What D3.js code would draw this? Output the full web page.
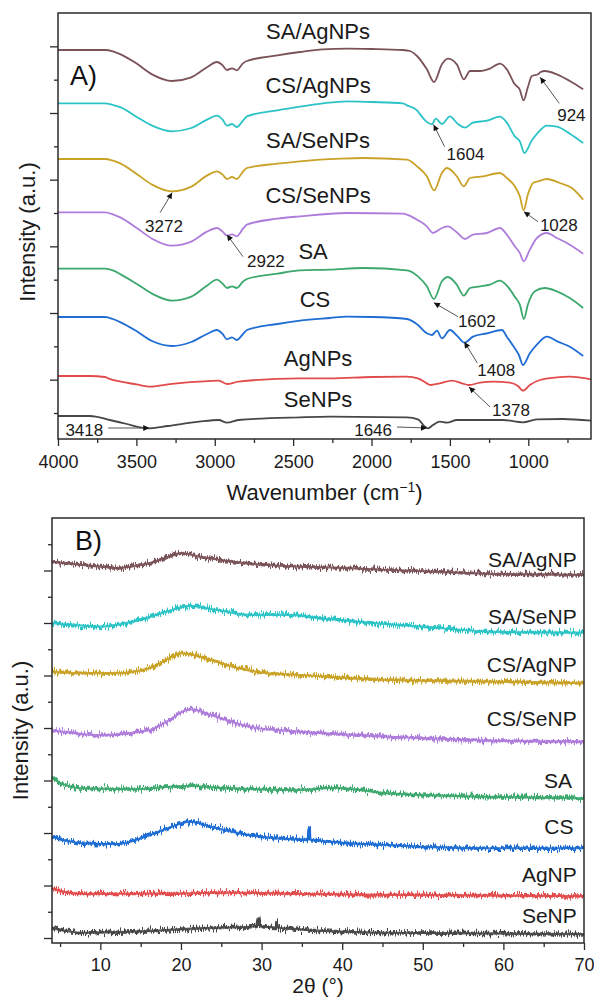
<!DOCTYPE html>
<html><head><meta charset="utf-8">
<script src="https://cdn.jsdelivr.net/npm/d3@7"></script>
<style>
html,body{margin:0;padding:0;background:#fff;}
svg{display:block;font-family:"Liberation Sans",Arial,Helvetica,sans-serif;}
</style></head><body>
<svg id="fig" width="594" height="999"></svg>
<script>
// ---------- Panel A: FTIR spectra, [wavenumber cm-1, stacked intensity a.u.] ----------
const ftirSAAg = [[4000,108.9],[3700,108.9],[3650,108.5],[3600,107.6],[3500,104.9],[3400,101.6],[3272,99.6],[3150,100.7],[3050,103.7],[2986,105.3],[2950,104.3],[2922,102.9],[2890,103.4],[2860,102.8],[2820,104.9],[2795,105.6],[2600,107.3],[2457,108.3],[2310,109.1],[2157,109.3],[2000,109.2],[1800,108.9],[1755,108.6],[1710,107.1],[1647,103.1],[1601,99.3],[1551,104.6],[1513,106.3],[1456,104.6],[1411,100.1],[1372,102.6],[1308,102.6],[1245,103.3],[1181,104.8],[1137,103.1],[1086,98.6],[1055,97.1],[1030,93.8],[1003,97.7],[977,101.1],[938,101.6],[924,102.2],[894,102.6],[818,101.6],[735,99.6],[650,97.1]];
const ftirCSAg = [[4000,92.9],[3700,92.9],[3650,92.4],[3600,91.7],[3500,88.9],[3400,86.2],[3272,84.5],[3150,85.5],[3050,88.0],[2986,89.2],[2950,88.0],[2922,86.2],[2890,86.7],[2860,85.8],[2820,87.7],[2795,89.0],[2600,90.8],[2457,91.9],[2310,92.9],[2157,93.5],[2000,93.3],[1800,92.9],[1774,92.3],[1710,90.8],[1690,89.6],[1650,87.4],[1615,86.6],[1590,88.3],[1551,86.7],[1500,89.0],[1449,86.7],[1404,85.6],[1353,87.1],[1264,87.7],[1181,88.9],[1137,87.1],[1086,83.0],[1053,81.4],[1025,78.0],[977,81.8],[938,84.1],[881,86.2],[818,85.9],[735,83.8],[650,81.0]];
const ftirSASe = [[4000,76.2],[3700,76.2],[3650,75.7],[3600,74.8],[3500,71.8],[3400,68.5],[3272,66.5],[3150,67.9],[3050,71.2],[2986,72.5],[2950,71.5],[2922,70.2],[2890,70.8],[2860,70.2],[2820,72.4],[2795,73.5],[2600,74.8],[2457,75.5],[2200,76.3],[2055,76.5],[1774,76.0],[1710,74.0],[1647,71.0],[1601,66.8],[1551,72.0],[1519,73.5],[1456,71.0],[1411,68.0],[1372,70.5],[1289,71.0],[1181,72.0],[1137,70.5],[1086,68.0],[1054,65.0],[1030,60.8],[1003,65.5],[970,69.0],[938,69.5],[881,70.2],[799,69.0],[722,67.5],[650,64.0]];
const ftirCSSe = [[4000,60.2],[3700,60.2],[3650,59.6],[3600,58.6],[3500,55.6],[3400,52.3],[3272,50.2],[3150,51.4],[3050,54.4],[2986,55.5],[2950,54.4],[2922,53.2],[2890,53.6],[2860,53.0],[2820,55.3],[2795,56.5],[2600,58.3],[2457,59.0],[2157,60.0],[1800,59.8],[1774,59.5],[1710,58.0],[1647,56.0],[1608,54.0],[1551,55.5],[1513,56.0],[1456,54.2],[1404,52.2],[1353,53.5],[1264,54.0],[1181,55.5],[1137,53.5],[1086,50.0],[1055,48.1],[1030,45.5],[990,49.0],[945,52.5],[881,54.0],[818,52.5],[735,50.5],[650,47.8]];
const ftirSA = [[4000,43.3],[3700,43.3],[3650,42.8],[3600,41.6],[3500,38.8],[3400,35.8],[3272,33.7],[3150,34.9],[3050,38.2],[2986,40.0],[2950,38.8],[2922,37.5],[2890,38.0],[2860,37.5],[2820,39.4],[2795,40.2],[2600,41.8],[2457,42.8],[2265,43.0],[2055,43.5],[1774,42.8],[1704,41.0],[1647,38.0],[1602,34.2],[1551,39.5],[1513,40.8],[1456,38.5],[1411,35.2],[1372,37.5],[1308,38.0],[1245,38.5],[1181,39.7],[1137,38.2],[1086,34.9],[1054,32.5],[1028,28.2],[1003,32.5],[958,36.5],[894,37.5],[818,36.5],[735,34.5],[650,31.5]];
const ftirCS = [[4000,28.8],[3700,28.8],[3650,28.2],[3600,27.2],[3500,24.6],[3400,21.6],[3272,20.1],[3150,21.3],[3050,23.7],[2986,24.9],[2950,23.7],[2922,22.1],[2890,22.7],[2860,21.9],[2820,23.7],[2795,24.9],[2600,26.7],[2457,27.7],[2265,28.5],[2157,28.9],[2000,28.8],[1774,28.2],[1704,26.4],[1647,23.9],[1615,23.4],[1583,24.7],[1551,22.4],[1500,24.9],[1449,22.9],[1408,21.1],[1353,22.9],[1264,23.9],[1168,24.9],[1137,22.9],[1086,19.4],[1060,17.4],[1034,14.4],[990,17.9],[938,20.9],[881,22.9],[812,21.4],[735,19.9],[650,17.1]];
const ftirAg = [[4000,11.1],[3800,11.1],[3700,10.8],[3680,10.4],[3600,9.4],[3500,8.6],[3413,7.9],[3300,8.6],[3100,9.4],[2975,9.7],[2922,8.7],[2850,9.4],[2457,10.4],[2265,10.4],[2000,10.8],[1774,10.9],[1704,10.4],[1647,8.9],[1626,8.4],[1564,8.9],[1487,9.7],[1423,8.9],[1378,8.4],[1308,9.1],[1224,9.4],[1117,9.1],[1066,8.1],[1034,6.7],[990,8.4],[926,9.9],[818,10.7],[735,10.9],[600,10.1]];
const ftirSe = [[4000,-0.9],[3796,-0.9],[3670,-2.1],[3560,-3.3],[3477,-4.3],[3413,-4.6],[3300,-3.9],[3100,-2.6],[2975,-2.1],[2922,-2.9],[2850,-2.1],[2457,-1.3],[2265,-1.1],[1774,-1.3],[1704,-1.9],[1659,-4.1],[1640,-4.6],[1608,-3.6],[1564,-2.6],[1519,-2.9],[1456,-2.1],[1308,-2.1],[1162,-2.1],[1034,-2.8],[945,-1.9],[780,-1.8],[600,-2.3]];

const ftirNames = ["SA/AgNPs","CS/AgNPs","SA/SeNPs","CS/SeNPs","SA","CS","AgNPs","SeNPs"];
const ftirSeries = [ftirSAAg, ftirCSAg, ftirSASe, ftirCSSe, ftirSA, ftirCS, ftirAg, ftirSe];
const ftirLabelW = [2341, 2341, 2341, 2341, 2373, 2361, 2341, 2341];
const ftirLabelV = [112.1, 96.1, 79.5, 63.0, 46.3, 31.9, 14.1, 1.9];

// marked bands: wavenumber, spectrum index, intensity at the arrow tip
const peakWavenumbers = [924, 1604, 1028, 3272, 2922, 1602, 1408, 1378, 1646, 3418];
const peakSeries = [0, 1, 2, 2, 3, 4, 5, 6, 7, 7];
const peakTipV = [100.7, 86.5, 60.4, 66.1, 53.5, 33.1, 21.3, 7.8, -4.5, -4.5];

const ftirMajorTicks = [4000, 3500, 3000, 2500, 2000, 1500, 1000];
const ftirMinorTicks = [3750, 3250, 2750, 2250, 1750, 1250, 750];

// ---------- Panel B: XRD patterns, [2theta deg, stacked intensity a.u.] ----------
const xrdSAAg = [[4,143.4],[5.5,142.8],[7.8,142.1],[10,141.5],[12,140.9],[14,141.6],[16.1,142.8],[18.5,145.2],[20,146.6],[22.3,145.3],[24.5,144.2],[26.4,143.4],[28.6,142.6],[30.6,142.1],[34.7,141.5],[40,141.0],[45.9,140.2],[52,139.5],[58.3,138.7],[64,138.5],[70,138.3]];
const xrdSASe = [[4,119.9],[7,119.2],[10,118.6],[14,120.5],[18.2,124.3],[21.1,126.5],[24.4,125.0],[28.5,123.1],[33.5,123.1],[37,122.0],[41.8,120.5],[50,118.6],[58.3,116.7],[64,116.4],[70,116.3]];
const xrdCSAg = [[4,101.5],[7.8,100.9],[12,100.9],[16.1,102.8],[18.5,106.5],[20,108.5],[22.3,107.2],[24.5,105.2],[26.4,103.4],[30.6,100.9],[34.7,100.2],[45.9,98.3],[58.3,97.7],[70,97.1]];
const xrdCSSe = [[4,79.2],[10,77.3],[16.1,79.2],[18.2,82.4],[21.1,87.1],[24.4,84.3],[28.5,80.5],[34.7,78.6],[45.9,76.7],[58.3,75.2],[70,74.8]];
const xrdSA = [[4,61.5],[5,59.1],[7.8,57.0],[14,56.7],[20.3,57.9],[26.5,57.0],[34.7,56.4],[39,57.2],[45.9,55.1],[58.3,53.8],[70,53.2]];
const xrdCS = [[4,38.6],[7.8,36.1],[12,35.8],[16.1,39.2],[18.5,42.0],[21.1,44.3],[24.4,41.8],[28.5,39.2],[34.7,37.6],[35.8,37.5],[35.9,42.3],[36.0,37.5],[45.9,35.4],[58.3,34.2],[70,34.2]];
const xrdAg = [[4,18.9],[5.5,17.6],[7.8,16.8],[20,17.0],[26.5,17.3],[34.7,16.8],[45.9,16.4],[70,16.0]];
const xrdSe = [[4,3.7],[7.8,2.0],[14,2.4],[22.3,3.7],[29.4,4.4],[29.6,7.6],[29.8,4.4],[31.8,4.0],[31.9,5.8],[32.0,4.0],[34.7,3.3],[45.9,2.0],[70,1.5]];

const xrdNames = ["SA/AgNP","SA/SeNP","CS/AgNP","CS/SeNP","SA","CS","AgNP","SeNP"];
const xrdSeries = [xrdSAAg, xrdSASe, xrdCSAg, xrdCSSe, xrdSA, xrdCS, xrdAg, xrdSe];
const xrdLabelT = [69.1, 69.1, 69.1, 69.1, 68.5, 68.7, 69.1, 69.1];
const xrdLabelV = [141.5, 119.6, 101.5, 80.9, 57.0, 39.5, 21.4, 5.8];

const xrdMajorTicks = [10, 20, 30, 40, 50, 60, 70];
const xrdMinorTicks = [5, 15, 25, 35, 45, 55, 65];

const palette = ["#7a5258", "#2cc3c6", "#c9a227", "#ae7ddb", "#3ca86e", "#1f6dd3", "#e14b4b", "#474747"];

// ---------- layout ----------
const svg = d3.select("#fig");
const axisColor = "#2b2b2b";
const A = {left: 58, right: 591, top: 13, bottom: 439};
const B = {left: 52, right: 584, top: 518, bottom: 943};

const xA = d3.scaleLinear().domain([4000, 600]).range([A.left, A.right]);
const yA = d3.scaleLinear().domain([-7.8, 120]).range([A.bottom, A.top]);
const xB = d3.scaleLinear().domain([4, 70]).range([B.left, B.right]);
const yB = d3.scaleLinear().domain([-1.9, 160]).range([B.bottom, B.top]);

// arrow heads for the band markers
const defs = svg.append("defs");
defs.append("marker").attr("id", "head")
  .attr("viewBox", "0 0 10 10").attr("refX", 10).attr("refY", 5)
  .attr("markerWidth", 9).attr("markerHeight", 6).attr("markerUnits", "userSpaceOnUse")
  .attr("orient", "auto")
  .append("path").attr("d", "M0,0L10,5L0,10z").attr("fill", "#111");

// grainy texture for the counting-noise of the diffractograms (vertical jitter only)
const grain = defs.append("filter").attr("id", "grain")
  .attr("x", "-2%").attr("y", "-80%").attr("width", "104%").attr("height", "260%");
grain.append("feTurbulence").attr("type", "fractalNoise")
  .attr("baseFrequency", "1.3 0.05").attr("numOctaves", 2).attr("seed", 4).attr("result", "n");
grain.append("feColorMatrix").attr("in", "n").attr("type", "matrix")
  .attr("values", "0 0 0 0 0.5  0 1 0 0 0  0 0 1 0 0  0 0 0 0 1").attr("result", "m");
grain.append("feDisplacementMap").attr("in", "SourceGraphic").attr("in2", "m")
  .attr("scale", 11).attr("xChannelSelector", "R").attr("yChannelSelector", "G");

function drawFrame(P, x, y, major, minor, yMajor, yMinor, labelPad) {
  const g = svg.append("g");
  const xMaj = d3.axisBottom(x).tickValues(major).tickSize(7).tickPadding(labelPad).tickFormat(d3.format("d"));
  const xMin = d3.axisBottom(x).tickValues(minor).tickSize(4).tickFormat("");
  const yMaj = d3.axisLeft(y).tickValues(yMajor).tickSize(8).tickFormat("");
  const yMin = d3.axisLeft(y).tickValues(yMinor).tickSize(4).tickFormat("");
  [[xMaj, "b"], [xMin, "b"], [yMaj, "l"], [yMin, "l"]].forEach(([ax, side]) => {
    const a = g.append("g")
      .attr("transform", side === "b" ? `translate(0,${P.bottom})` : `translate(${P.left},0)`)
      .call(ax);
    a.select(".domain").remove();
    a.selectAll("line").attr("stroke", axisColor).attr("stroke-width", 1.3);
    a.selectAll("text").attr("fill", "#1a1a1a").attr("font-size", 18)
      .attr("font-family", "Liberation Sans, Arial, sans-serif");
  });
  g.append("rect").attr("x", P.left).attr("y", P.top)
    .attr("width", P.right - P.left).attr("height", P.bottom - P.top)
    .attr("fill", "none").attr("stroke", axisColor).attr("stroke-width", 1.5);
}

// ---------- Panel A ----------
const lineA = d3.line().x(d => xA(d[0])).y(d => yA(d[1])).curve(d3.curveMonotoneX);
const gA = svg.append("g");
ftirSeries.forEach((s, i) => {
  gA.append("path").datum(s).attr("d", lineA)
    .attr("fill", "none").attr("stroke", palette[i]).attr("stroke-width", 1.8)
    .attr("stroke-linejoin", "round");
});
ftirNames.forEach((n, i) => {
  gA.append("text").attr("x", xA(ftirLabelW[i])).attr("y", yA(ftirLabelV[i]))
    .attr("text-anchor", "middle").attr("font-size", 22).attr("fill", "#1a1a1a").text(n);
});

// band markers: tail and label placed relative to the arrow tip
const peakLayout = [
  [19, 26, 17, 44, "start"], [11, 22, 13, 35, "start"], [14, 10, 16, 19, "start"],
  [-12, 20, -27, 39, "start"], [16, 22, 20, 32, "start"], [24, 14, 24, 24, "start"],
  [13, 21, 13, 34, "start"], [21, 20, 23, 29, "start"], [-30, -1, -35, 8, "end"],
  [-41, 0, -46, 8, "end"]];
peakWavenumbers.forEach((w, i) => {
  const tx = xA(w), ty = yA(peakTipV[i]);
  const [dx, dy, lx, ly, anchor] = peakLayout[i];
  gA.append("line").attr("x1", tx + dx).attr("y1", ty + dy).attr("x2", tx).attr("y2", ty)
    .attr("stroke", "#555").attr("stroke-width", 1).attr("marker-end", "url(#head)");
  gA.append("text").attr("x", tx + lx).attr("y", ty + ly).attr("text-anchor", anchor)
    .attr("font-size", 17).attr("fill", "#1a1a1a").text(String(w));
});

drawFrame(A, xA, yA, ftirMajorTicks, ftirMinorTicks, [10, 30, 50, 70, 90, 110], [0, 20, 40, 60, 80, 100], 9);

svg.append("text").attr("x", 70).attr("y", 85).attr("font-size", 27).attr("fill", "#111").text("A)");
svg.append("text").attr("transform", `translate(35,${(A.top + A.bottom) / 2 + 6}) rotate(-90)`)
  .attr("text-anchor", "middle").attr("font-size", 22).attr("fill", "#1a1a1a").text("Intensity (a.u.)");
const wl = svg.append("text").attr("x", (A.left + A.right) / 2).attr("y", 500)
  .attr("text-anchor", "middle").attr("font-size", 22).attr("fill", "#1a1a1a");
wl.append("tspan").text("Wavenumber (cm");
wl.append("tspan").attr("font-size", 14).attr("dy", -8).text("−1");
wl.append("tspan").attr("dy", 8).text(")");

// ---------- Panel B ----------
const lineB = d3.line().x(d => xB(d[0])).y(d => yB(d[1])).curve(d3.curveMonotoneX);
const gB = svg.append("g");
xrdSeries.forEach((s, i) => {
  gB.append("path").datum(s).attr("d", lineB)
    .attr("fill", "none").attr("stroke", palette[i]).attr("stroke-width", 2.2)
    .attr("opacity", 0.9);
  gB.append("path").datum(s).attr("d", lineB)
    .attr("fill", "none").attr("stroke", palette[i]).attr("stroke-width", 3.4)
    .attr("filter", "url(#grain)");
});
xrdNames.forEach((n, i) => {
  gB.append("text").attr("x", xB(xrdLabelT[i])).attr("y", yB(xrdLabelV[i]))
    .attr("text-anchor", "end").attr("font-size", 21).attr("fill", "#1a1a1a").text(n);
});

drawFrame(B, xB, yB, xrdMajorTicks, xrdMinorTicks, [0, 20, 40, 60, 80, 100, 120, 140], [10, 30, 50, 70, 90, 110, 130, 150], 8);

svg.append("text").attr("x", 75).attr("y", 550).attr("font-size", 27).attr("fill", "#111").text("B)");
svg.append("text").attr("transform", `translate(28,${(B.top + B.bottom) / 2}) rotate(-90)`)
  .attr("text-anchor", "middle").attr("font-size", 22).attr("fill", "#1a1a1a").text("Intensity (a.u.)");
svg.append("text").attr("x", (B.left + B.right) / 2).attr("y", 993)
  .attr("text-anchor", "middle").attr("font-size", 21).attr("fill", "#1a1a1a").text("2θ (°)");
</script>
</body></html>
